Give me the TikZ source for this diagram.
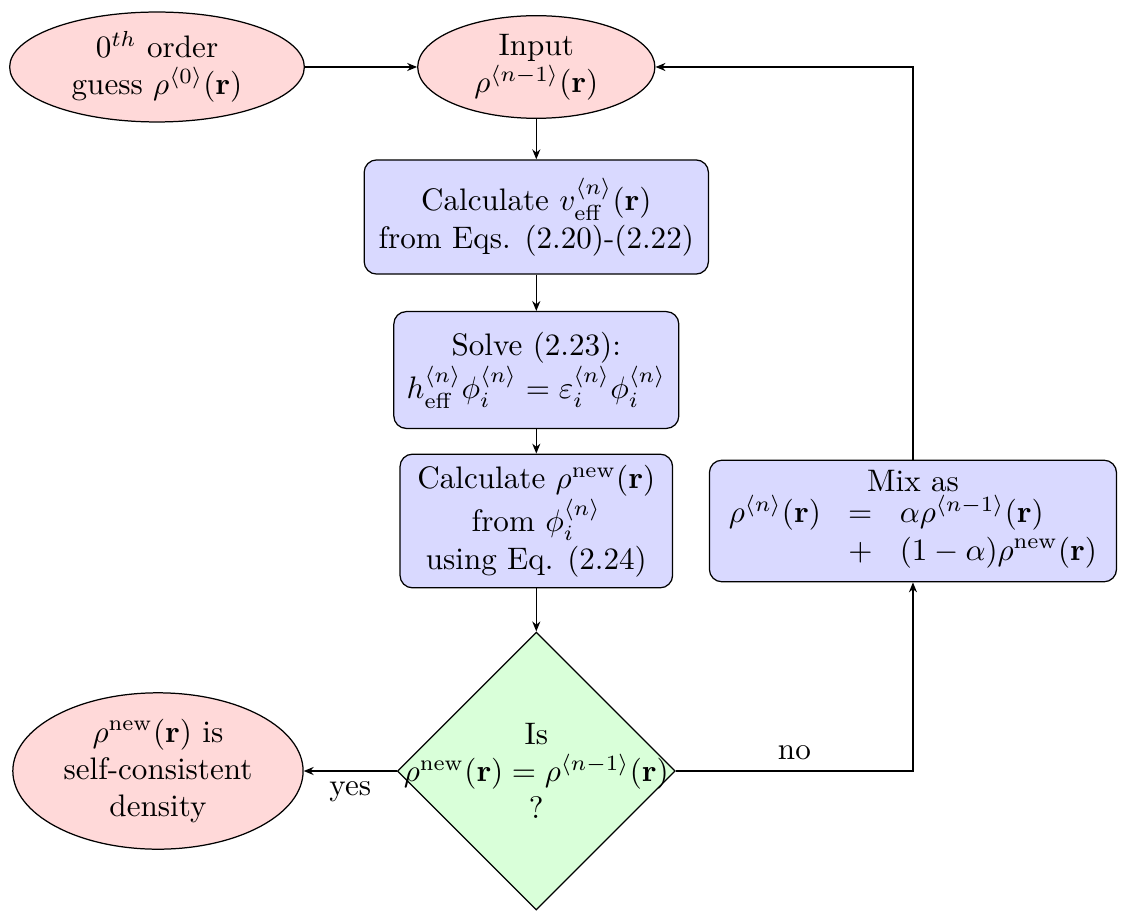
\documentclass[tikz,border=0pt]{standalone}
\usepackage{amsmath,amssymb}
\usepackage{tikz}
\usetikzlibrary{arrows.meta,shapes.geometric}

\begin{document}
\begin{tikzpicture}[
  terminal/.style={ellipse,draw,fill=red!15,align=center,inner sep=1pt},
  proc/.style={rectangle,rounded corners,draw,fill=blue!15,align=center},
  decide/.style={diamond,aspect=1,draw,fill=green!15,align=center,
    inner sep=-0.6cm,minimum size=3.14cm},
  link/.style={thin,-{Stealth[length=3.2pt,width=2.6pt]}}]
  \useasboundingbox (0,0) rectangle (12.667,-10.305);
  \node[terminal,minimum width=3.33cm,minimum height=1.03cm] (guess) at (1.774,-0.757)
    {$0^{th}$ order\\ guess $\rho^{\langle 0\rangle}(\mathbf{r})$};
  \node[terminal,minimum width=2.68cm,minimum height=1.03cm] (input) at (6.06,-0.757)
    {Input\\ $\rho^{\langle n-1\rangle}(\mathbf{r})$};
  \node[proc,minimum width=3.89cm,minimum height=1.29cm] (calc) at (6.06,-2.452)
    {Calculate $v_{\rm eff}^{\langle n\rangle}(\mathbf{r})$\\ from Eqs. (2.20)-(2.22)};
  \node[proc,minimum width=3.22cm,minimum height=1.32cm] (solve) at (6.06,-4.181)
    {Solve (2.23):\\ $h_{\rm eff}^{\langle n\rangle}\phi_i^{\langle n\rangle}
      =\varepsilon_i^{\langle n\rangle}\phi_i^{\langle n\rangle}$};
  \node[proc,minimum width=3.08cm,minimum height=1.51cm] (rhonew) at (6.06,-5.887)
    {Calculate $\rho^{\rm new}(\mathbf{r})$\\ from $\phi_i^{\langle n\rangle}$\\ using Eq. (2.24)};
  \node[decide] (check) at (6.06,-8.712)
    {Is\\ $\rho^{\rm new}(\mathbf{r})=\rho^{\langle n-1\rangle}(\mathbf{r})$\\ ?};
  \node[proc,minimum width=4.6cm,minimum height=1.31cm] (mix) at (10.316,-5.887)
    {Mix as\\ $\arraycolsep=4.4pt\begin{array}{@{}rcl@{}}
      \rho^{\langle n\rangle}(\mathbf{r}) & = & \alpha\rho^{\langle n-1\rangle}(\mathbf{r})\\
       & + & (1-\alpha)\rho^{\rm new}(\mathbf{r})
    \end{array}$};
  \node[terminal,minimum width=3.28cm,minimum height=1.6cm] (selfc) at (1.785,-8.712)
    {$\rho^{\rm new}(\mathbf{r})$ is\\ self-consistent\\ density};
  \draw[link] (guess) -- (input);
  \draw[link] (input) -- (calc);
  \draw[link] (calc) -- (solve);
  \draw[link] (solve) -- (rhonew);
  \draw[link] (rhonew) -- (check);
  \draw[link] (check) -- node[below] {yes} (selfc);
  \draw[link] (check.east) -| node[pos=0.25,above] {no} (mix.south);
  \draw[link] (mix.north) |- (input.east);
\end{tikzpicture}
\end{document}
